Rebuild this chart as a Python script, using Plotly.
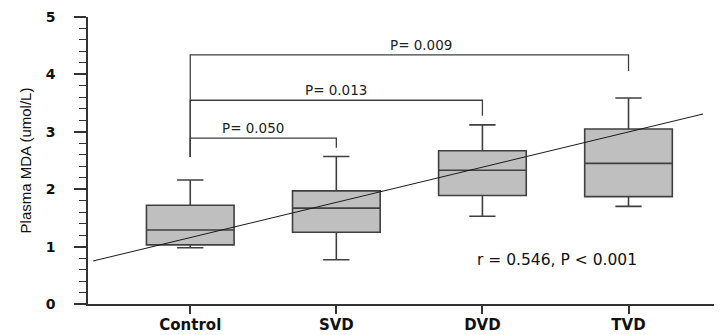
import plotly.graph_objects as go

# ---- data ----
categories = ["Control", "SVD", "DVD", "TVD"]
cat_pos = [1, 2, 3, 4]
q1 = [1.03, 1.25, 1.89, 1.87]
median = [1.29, 1.67, 2.33, 2.45]
q3 = [1.72, 1.97, 2.67, 3.05]
lower_whisker = [0.98, 0.77, 1.53, 1.70]
upper_whisker = [2.16, 2.57, 3.12, 3.59]

# regression line endpoints (category-axis units, MDA units)
trend_x = [0.336, 4.51]
trend_y = [0.75, 3.31]

# significance brackets: Control vs each group
bracket_to = [2, 3, 4]
bracket_height = [2.89, 3.55, 4.34]
bracket_right_end = [2.72, 3.28, 4.06]
bracket_left_start = 2.56
bracket_labels = ["P= 0.050", "P= 0.013", "P= 0.009"]
bracket_label_x = [1.43, 2.0, 2.58]

corr_text = "r = 0.546, P < 0.001"
corr_pos = (3.51, 0.77)

y_ticks = [0, 1, 2, 3, 4, 5]

# ---- figure ----
fig = go.Figure()

fig.add_trace(go.Box(
    x=cat_pos, q1=q1, median=median, q3=q3,
    lowerfence=lower_whisker, upperfence=upper_whisker,
    width=0.6, whiskerwidth=0.3,
    fillcolor="#bfbfbf",
    line=dict(color="#404040", width=1.6),
    boxpoints=False, hoverinfo="skip", showlegend=False,
))

fig.add_trace(go.Scatter(
    x=trend_x, y=trend_y, mode="lines",
    line=dict(color="#1a1a1a", width=1),
    hoverinfo="skip", showlegend=False,
))

for to, h, r_end, lab, lx in zip(bracket_to, bracket_height, bracket_right_end,
                                  bracket_labels, bracket_label_x):
    fig.add_trace(go.Scatter(
        x=[cat_pos[0], cat_pos[0], to, to],
        y=[bracket_left_start, h, h, r_end],
        mode="lines", line=dict(color="#404040", width=1.3),
        hoverinfo="skip", showlegend=False,
    ))
    fig.add_annotation(
        x=lx, y=h, text=lab, showarrow=False,
        xanchor="center", yanchor="bottom", yshift=0,
        font=dict(family="DejaVu Sans", size=13.5, color="#222222"),
    )

fig.add_annotation(
    x=corr_pos[0], y=corr_pos[1], text=corr_text, showarrow=False,
    xanchor="center", yanchor="middle",
    font=dict(family="DejaVu Sans", size=15.5, color="#111111"),
)

fig.update_layout(
    width=714, height=327,
    margin=dict(l=80, r=0, t=9, b=31),
    paper_bgcolor="white", plot_bgcolor="white",
    xaxis=dict(
        range=[0.30, 4.64], automargin=False,
        tickvals=cat_pos, ticktext=categories,
        showline=True, linecolor="#333333", linewidth=1.5,
        ticks="outside", ticklen=8, tickwidth=1.5, tickcolor="#333333",
        ticklabelstandoff=-2,
        showgrid=False, zeroline=False,
        tickfont=dict(family="DejaVu Sans", size=15, color="#111111", weight="bold"),
    ),
    yaxis=dict(
        range=[0, 5], automargin=False,
        tickvals=y_ticks,
        showline=True, linecolor="#333333", linewidth=1.5,
        ticks="outside", ticklen=12, tickwidth=1.5, tickcolor="#333333",
        ticklabelstandoff=16,
        minor=dict(dtick=0.2, ticks="outside", ticklen=7, tickwidth=1.2,
                   tickcolor="#333333", showgrid=False),
        showgrid=False, zeroline=False,
        tickfont=dict(family="DejaVu Sans", size=14, color="#111111", weight="bold"),
        title=dict(text="Plasma MDA (umol/L)", standoff=10,
                   font=dict(family="Liberation Sans", size=15, color="#111111")),
    ),
)

fig.write_html("out.html")
